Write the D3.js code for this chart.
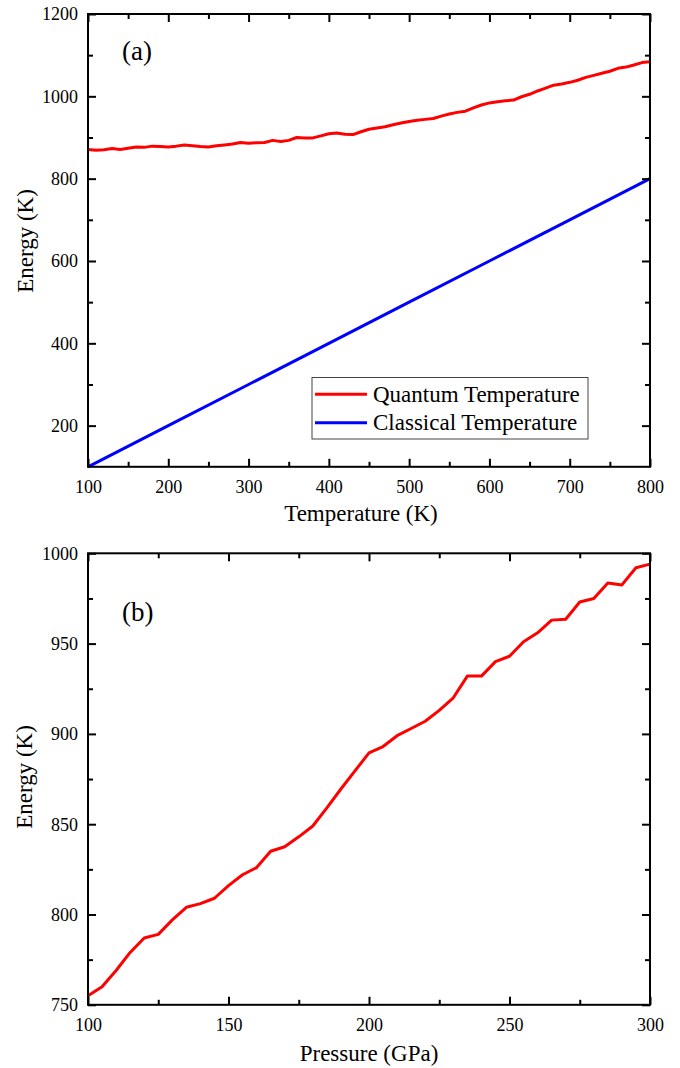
<!DOCTYPE html>
<html>
<head>
<meta charset="utf-8">
<script src="https://cdn.jsdelivr.net/npm/d3@7"></script>
<style>
  body { margin: 0; background: #fff; }
  text { font-family: "Liberation Serif", "Times New Roman", serif; fill: #000; }
</style>
</head>
<body>
<div id="chart"></div>
<script>
// DATA - panel (a)
var tempK = [100, 110, 120, 130, 140, 150, 160, 170, 180, 190,
  200, 210, 220, 230, 240, 250, 260, 270, 280, 290,
  300, 310, 320, 330, 340, 350, 360, 370, 380, 390,
  400, 410, 420, 430, 440, 450, 460, 470, 480, 490,
  500, 510, 520, 530, 540, 550, 560, 570, 580, 590,
  600, 610, 620, 630, 640, 650, 660, 670, 680, 690,
  700, 710, 720, 730, 740, 750, 760, 770, 780, 790, 800];
var quantumE = [871, 869, 870, 873, 871, 874, 877, 876, 879, 878,
  877, 879, 882, 880, 878, 877, 880, 882, 884, 888,
  886, 887, 888, 893, 890, 893, 900, 899, 899, 904,
  909, 911, 908, 907, 914, 920, 923, 926, 931, 935,
  939, 942, 944, 946, 952, 957, 961, 964, 972, 979,
  984, 987, 989, 991, 999, 1005, 1013, 1020, 1027, 1030,
  1034, 1039, 1046, 1051, 1056, 1061, 1068, 1071, 1076, 1082, 1084];
var classicalT = [100, 200, 300, 400, 500, 600, 700, 800];
var classicalE = [100, 200, 300, 400, 500, 600, 700, 800];

// DATA - panel (b)
var pressure = [100, 105, 110, 115, 120, 125, 130, 135, 140, 145,
  150, 155, 160, 165, 170, 175, 180, 185, 190, 195,
  200, 205, 210, 215, 220, 225, 230, 235, 240, 245,
  250, 255, 260, 265, 270, 275, 280, 285, 290, 295, 300];
var pressureE = [755, 760, 769, 779, 787, 789, 797, 804, 806, 809,
  816, 822, 826, 835, 837.5, 843, 849, 859, 869.5, 879.5,
  889.5, 893, 899, 903, 907, 913, 920, 932, 932, 940,
  943, 951, 956, 963, 963.5, 973, 975, 983.5, 982.5, 992, 994];

// TICKS
var aXMajor = [100, 200, 300, 400, 500, 600, 700, 800];
var aXMinor = [150, 250, 350, 450, 550, 650, 750];
var aYMajor = [200, 400, 600, 800, 1000, 1200];
var aYMinor = [300, 500, 700, 900, 1100];
var bXMajor = [100, 150, 200, 250, 300];
var bXMinor = [125, 175, 225, 275];
var bYMajor = [750, 800, 850, 900, 950, 1000];
var bYMinor = [775, 825, 875, 925, 975];

var w = 680;
var h = 1068;
var left = 88;
var right = 650;

var svg = d3.select("#chart").append("svg").attr("width", w).attr("height", h);

// draw a framed box with inward ticks on all four sides
function drawFrame(g, xScale, yScale, xMajor, xMinor, yMajor, yMinor, top, bottom) {
  function style(sel, labels) {
    sel.select(".domain").remove();
    sel.selectAll("line").attr("stroke", "#000").attr("stroke-width", 2);
    if (!labels) sel.selectAll("text").remove();
    else sel.selectAll("text").attr("font-size", "18px").attr("fill", "#000");
  }

  // bottom
  g.append("g").attr("transform", "translate(0," + bottom + ")")
    .call(d3.axisBottom(xScale).tickValues(xMajor).tickSize(-8).tickFormat(d3.format("d")))
    .call(style, true)
    .selectAll("text").attr("y", 26).attr("dy", 0);
  g.append("g").attr("transform", "translate(0," + bottom + ")")
    .call(d3.axisBottom(xScale).tickValues(xMinor).tickSize(-5))
    .call(style, false);
  // top
  g.append("g").attr("transform", "translate(0," + top + ")")
    .call(d3.axisTop(xScale).tickValues(xMajor).tickSize(-8))
    .call(style, false);
  g.append("g").attr("transform", "translate(0," + top + ")")
    .call(d3.axisTop(xScale).tickValues(xMinor).tickSize(-5))
    .call(style, false);
  // left
  g.append("g").attr("transform", "translate(" + left + ",0)")
    .call(d3.axisLeft(yScale).tickValues(yMajor).tickSize(-8).tickPadding(10).tickFormat(d3.format("d")))
    .call(style, true)
    .selectAll("text").attr("dy", "0.33em");
  g.append("g").attr("transform", "translate(" + left + ",0)")
    .call(d3.axisLeft(yScale).tickValues(yMinor).tickSize(-5))
    .call(style, false);
  // right
  g.append("g").attr("transform", "translate(" + right + ",0)")
    .call(d3.axisRight(yScale).tickValues(yMajor).tickSize(-8))
    .call(style, false);
  g.append("g").attr("transform", "translate(" + right + ",0)")
    .call(d3.axisRight(yScale).tickValues(yMinor).tickSize(-5))
    .call(style, false);

  g.append("rect")
    .attr("x", left).attr("y", top)
    .attr("width", right - left).attr("height", bottom - top)
    .attr("fill", "none").attr("stroke", "#000").attr("stroke-width", 2);
}

// PANEL (a)
var aTop = 14, aBottom = 466.8;
var ax = d3.scaleLinear().domain([100, 800]).range([left, right]);
var ay = d3.scaleLinear().domain([100, 1200]).range([aBottom, aTop]);
var ga = svg.append("g");

var lineA = d3.line().x(function (d) { return ax(d[0]); }).y(function (d) { return ay(d[1]); });

ga.append("path")
  .datum(d3.zip(classicalT, classicalE))
  .attr("d", lineA)
  .attr("fill", "none").attr("stroke", "#0000ff").attr("stroke-width", 3);
ga.append("path")
  .datum(d3.zip(tempK, quantumE))
  .attr("d", lineA)
  .attr("fill", "none").attr("stroke", "#ff0000").attr("stroke-width", 3)
  .attr("stroke-linejoin", "round");

drawFrame(ga, ax, ay, aXMajor, aXMinor, aYMajor, aYMinor, aTop, aBottom);

ga.append("text").attr("x", 122).attr("y", 60).attr("font-size", "27px").text("(a)");
ga.append("text").attr("x", 361).attr("y", 521).attr("font-size", "23px")
  .attr("text-anchor", "middle").text("Temperature (K)");
ga.append("text").attr("transform", "translate(33,241) rotate(-90)")
  .attr("font-size", "23px").attr("text-anchor", "middle").text("Energy (K)");

// legend
var legend = ga.append("g");
legend.append("rect")
  .attr("x", 312).attr("y", 377.5).attr("width", 276).attr("height", 61.5)
  .attr("fill", "#fff").attr("stroke", "#444").attr("stroke-width", 1);
var legendItems = [["Quantum Temperature", "#ff0000", 394.3], ["Classical Temperature", "#0000ff", 422.7]];
legendItems.forEach(function (item) {
  legend.append("line")
    .attr("x1", 315).attr("x2", 367).attr("y1", item[2]).attr("y2", item[2])
    .attr("stroke", item[1]).attr("stroke-width", 3);
  legend.append("text")
    .attr("x", 373).attr("y", item[2] + 7.5)
    .attr("font-size", "23px").text(item[0]);
});

// PANEL (b)
var bTop = 553.3, bBottom = 1004.8;
var bx = d3.scaleLinear().domain([100, 300]).range([left, right]);
var by = d3.scaleLinear().domain([750, 1000]).range([bBottom, bTop]);
var gb = svg.append("g");

gb.append("path")
  .datum(d3.zip(pressure, pressureE))
  .attr("d", d3.line().x(function (d) { return bx(d[0]); }).y(function (d) { return by(d[1]); }))
  .attr("fill", "none").attr("stroke", "#ff0000").attr("stroke-width", 3)
  .attr("stroke-linejoin", "round");

drawFrame(gb, bx, by, bXMajor, bXMinor, bYMajor, bYMinor, bTop, bBottom);

gb.append("text").attr("x", 122).attr("y", 621).attr("font-size", "27px").text("(b)");
gb.append("text").attr("x", 369).attr("y", 1061).attr("font-size", "23px")
  .attr("text-anchor", "middle").text("Pressure (GPa)");
gb.append("text").attr("transform", "translate(32,777) rotate(-90)")
  .attr("font-size", "23px").attr("text-anchor", "middle").text("Energy (K)");
</script>
</body>
</html>
